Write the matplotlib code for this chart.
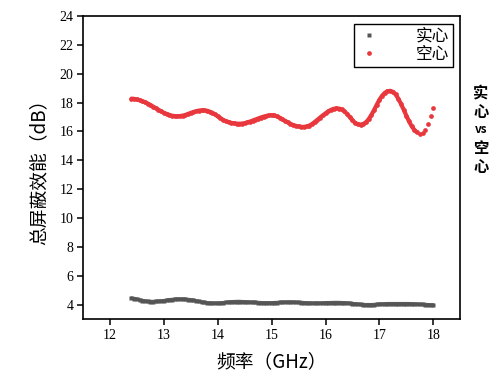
import numpy as np
import matplotlib
matplotlib.use("Agg")
import matplotlib.pyplot as plt

plt.rcParams['font.family'] = ['Noto Sans CJK SC', 'DejaVu Sans']

# frequency grid (GHz), 0.05 step
freq = np.round(np.arange(12.4, 18.0001, 0.05), 2)

# hollow (空心) total shielding effectiveness, dB
hollow = [18.28, 18.26, 18.22, 18.17, 18.10, 18.03, 17.94, 17.84, 17.73, 17.62,
          17.51, 17.40, 17.30, 17.22, 17.15, 17.10, 17.07, 17.06, 17.07, 17.10,
          17.15, 17.22, 17.29, 17.35, 17.41, 17.45, 17.47, 17.47, 17.44, 17.38,
          17.30, 17.18, 17.05, 16.92, 16.81, 16.72, 16.65, 16.60, 16.57, 16.55,
          16.54, 16.55, 16.58, 16.63, 16.69, 16.76, 16.83, 16.90, 16.97, 17.03,
          17.08, 17.12, 17.13, 17.11, 17.05, 16.96, 16.85, 16.74, 16.63, 16.53,
          16.45, 16.39, 16.35, 16.32, 16.32, 16.35, 16.41, 16.52, 16.66, 16.81,
          16.97, 17.12, 17.26, 17.39, 17.50, 17.57, 17.60, 17.59, 17.53, 17.40,
          17.22, 17.00, 16.78, 16.60, 16.50, 16.48, 16.52, 16.64, 16.85, 17.14,
          17.48, 17.85, 18.20, 18.48, 18.68, 18.79, 18.82, 18.75, 18.57, 18.28,
          17.92, 17.52, 17.10, 16.70, 16.36, 16.10, 15.94, 15.85, 15.90, 16.12,
          16.55, 17.08, 17.62]

# solid (实心) total shielding effectiveness, dB
solid = [4.45, 4.42, 4.38, 4.33, 4.28, 4.25, 4.22, 4.21, 4.21, 4.22,
         4.23, 4.25, 4.27, 4.30, 4.33, 4.35, 4.37, 4.38, 4.38, 4.38,
         4.37, 4.35, 4.33, 4.30, 4.26, 4.22, 4.18, 4.15, 4.13, 4.11,
         4.10, 4.10, 4.10, 4.11, 4.13, 4.15, 4.17, 4.19, 4.20, 4.21,
         4.21, 4.20, 4.19, 4.18, 4.17, 4.16, 4.15, 4.14, 4.13, 4.12,
         4.12, 4.12, 4.12, 4.13, 4.14, 4.15, 4.16, 4.17, 4.17, 4.17,
         4.17, 4.16, 4.15, 4.14, 4.13, 4.12, 4.11, 4.10, 4.10, 4.10,
         4.10, 4.11, 4.12, 4.13, 4.13, 4.14, 4.14, 4.14, 4.13, 4.12,
         4.11, 4.09, 4.07, 4.05, 4.03, 4.01, 4.00, 3.99, 3.99, 3.99,
         4.00, 4.01, 4.03, 4.04, 4.05, 4.06, 4.06, 4.06, 4.06, 4.06,
         4.06, 4.06, 4.06, 4.06, 4.05, 4.04, 4.03, 4.02, 4.01, 4.00,
         3.99, 3.98, 3.97]

xticks = [12, 13, 14, 15, 16, 17, 18]
yticks = [4, 6, 8, 10, 12, 14, 16, 18, 20, 22, 24]
side_title = ['实', '心', 'vs', '空', '心']

gray = '#555555'
red = '#e8383d'

fig = plt.figure(figsize=(5.03, 3.83), dpi=100)
ax = fig.add_axes([0.165, 0.167, 0.75, 0.791])

# thick trace underneath so the dense scatter reads as a continuous band
ax.plot(freq, solid, '-', color=gray, lw=2.6, alpha=0.9, solid_capstyle='round')
ax.plot(freq[:-6], hollow[:-6], '-', color=red, lw=3.0, solid_capstyle='round')
ax.plot(freq, solid, 's', color=gray, ms=2.8, mec='none', label='实心')
ax.plot(freq, hollow, 'o', color=red, ms=3.4, mec='none', label='空心')

ax.set_xlim(11.5, 18.5)
ax.set_ylim(3, 24)
ax.set_xticks(xticks)
ax.set_yticks(yticks)
ax.tick_params(direction='out', length=4, width=1.1, top=False, right=False,
               labelsize=10, pad=3)
for lab in ax.get_xticklabels() + ax.get_yticklabels():
    lab.set_fontfamily('Liberation Serif')
for s in ax.spines.values():
    s.set_linewidth(1.2)

ax.set_xlabel('频率（GHz）', fontsize=13.5, labelpad=7)
ax.set_ylabel('总屏蔽效能（dB）', fontsize=13.5, labelpad=7)

leg = ax.legend(loc='upper right', fontsize=12, frameon=True, fancybox=False,
                edgecolor='black', markerscale=1.0, handletextpad=2.2,
                borderaxespad=0.45, handlelength=1.2, labelspacing=0.05,
                borderpad=0.25, framealpha=1)
leg.get_frame().set_linewidth(1.0)

# vertical stacked side title, one glyph per line
for i, ch in enumerate(side_title):
    fs = 8.5 if ch == 'vs' else 11
    fig.text(0.956, 1 - (93 + 18.5 * i) / 383, ch, ha='center', va='center',
             fontsize=fs, fontweight='bold')

fig.savefig('out.png', dpi=100)
